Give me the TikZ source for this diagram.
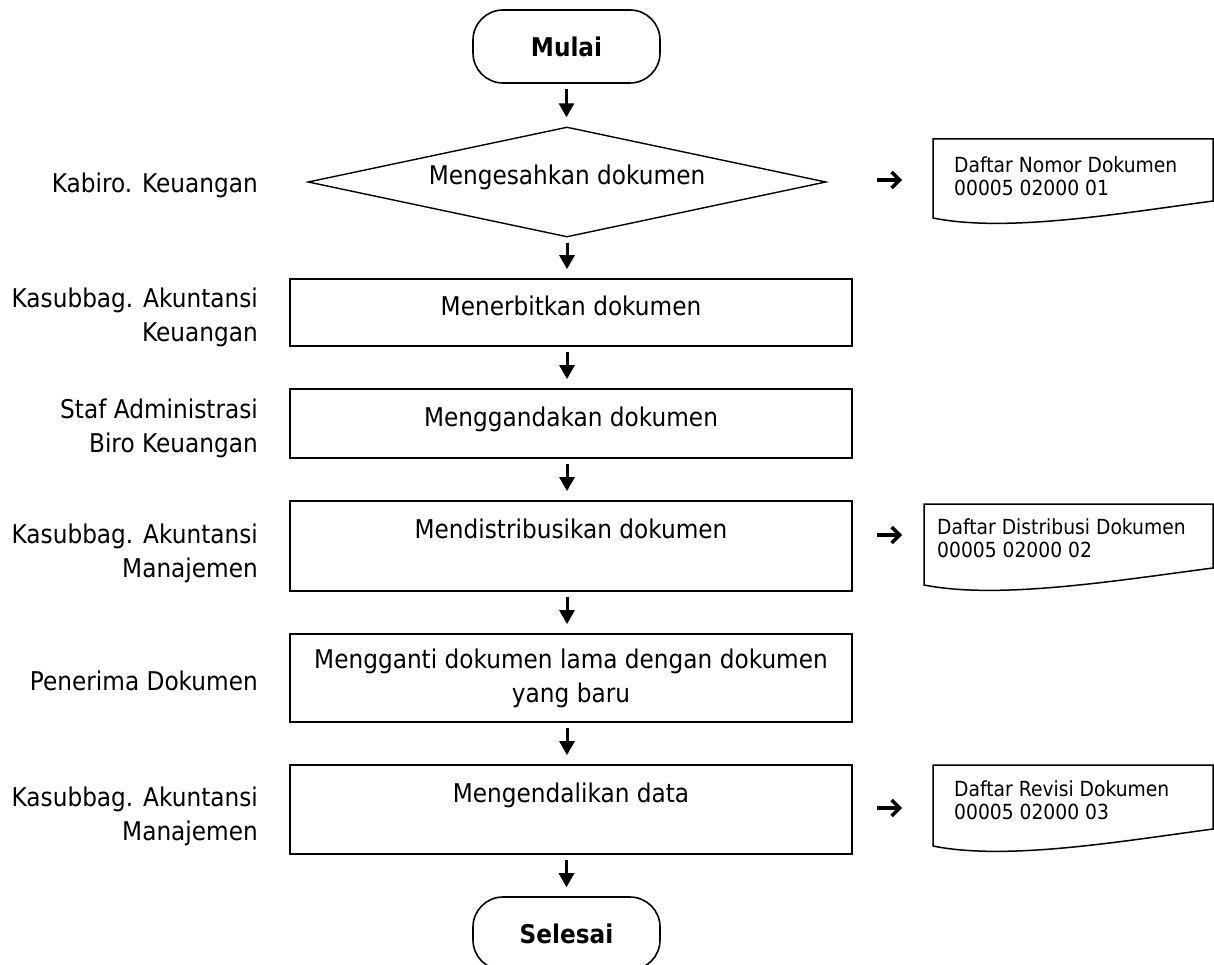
\documentclass[tikz,border=0pt]{standalone}
\usepackage{fontspec}
\setmainfont[FakeStretch=0.9]{DejaVu Sans}
\usetikzlibrary{shapes.geometric,arrows.meta}
\newcommand\mainfs{\fontsize{25.8}{34}\selectfont}
\newcommand\docfs{\fontsize{20.8}{23}\selectfont}
\begin{document}
\begin{tikzpicture}[x=1pt,y=-1pt,
  box/.style={draw, line width=1.8pt, minimum width=562pt, inner sep=0pt, align=center, font=\mainfs},
  oneline/.style={text height=19.6pt, text depth=14.6pt},
  term/.style={draw, line width=1.6pt, rounded corners=30pt, minimum width=187pt, minimum height=73pt, inner sep=0pt, font=\mainfs\bfseries},
  dec/.style={diamond, aspect=4.71, draw, line width=1.4pt, minimum width=518pt, minimum height=110pt, inner sep=0pt, font=\mainfs},
  lab/.style={anchor=north east, align=right, inner sep=0pt, font=\mainfs},
  doctext/.style={anchor=north west, align=left, inner sep=0pt, font=\docfs},
  docline/.style={line width=1.5pt},
  flow/.style={line width=3pt, -{Triangle[length=14pt,width=15pt]}, shorten <=5pt, shorten >=9pt},
  docarrow/.style={line width=3.4pt, -{Straight Barb[length=8pt,width=16pt,line width=3.4pt]}}
]
\useasboundingbox (0,0) rectangle (1214,965);

% terminals, decision and process boxes
\node[term] (mulai) at (566.5,46.5) {Mulai};
\node[dec, oneline] (d1) at (567,182) {Mengesahkan dokumen};
\node[box, oneline, minimum height=67pt] (b1) at (571,312.5) {Menerbitkan dokumen};
\node[box, oneline, minimum height=69pt] (b2) at (571,423.5) {Menggandakan dokumen};
\node[box, minimum height=90pt] (b3) at (571,546) {Mendistribusikan dokumen\\~};
\node[box, minimum height=88pt] (b4) at (571,678) {Mengganti dokumen lama dengan dokumen\\yang baru};
\node[box, minimum height=89pt] (b5) at (571,809.5) {Mengendalikan data\\~};
\node[term] (selesai) at (566.5,933.5) {Selesai};

% flow arrows
\draw[flow] (mulai.south) -- (mulai.south |- d1.north);
\draw[flow] (d1.south) -- (d1.south |- b1.north);
\draw[flow] (b1.south -| d1.south) -- (b2.north -| d1.south);
\draw[flow] (b2.south -| d1.south) -- (b3.north -| d1.south);
\draw[flow] (b3.south -| d1.south) -- (b4.north -| d1.south);
\draw[flow] (b4.south -| d1.south) -- (b5.north -| d1.south);
\draw[flow] (b5.south -| selesai.north) -- (selesai.north);

% role labels
\node[lab] (l0) at (258,172.4) {Kabiro. Keuangan};
\node[lab] (l1) at (258,287.4) {Kasubbag. Akuntansi\\Keuangan};
\node[lab] (l2) at (258,398.4) {Staf Administrasi\\Biro Keuangan};
\node[lab] (l3) at (258,523.4) {Kasubbag. Akuntansi\\Manajemen};
\node[lab] (l4) at (258,670.4) {Penerima Dokumen};
\node[lab] (l5) at (258,786.9) {Kasubbag. Akuntansi\\Manajemen};

% documents
\draw[docline] (933,139) -- (1213,139) -- (1213,201) .. controls (1123,213) and (1007,233) .. (933,218) -- cycle;
\node[doctext] (doc1) at (954,156.5) {Daftar Nomor Dokumen\\00005 02000 01};
\draw[docline] (924,504) -- (1213,504) -- (1213,568) .. controls (1120,580) and (1000,600) .. (924,585) -- cycle;
\node[doctext] (doc2) at (937,518.5) {Daftar Distribusi Dokumen\\00005 02000 02};
\draw[docline] (933,765) -- (1213,765) -- (1213,829) .. controls (1123,841) and (1007,861) .. (933,846) -- cycle;
\node[doctext] (doc3) at (954,780.5) {Daftar Revisi Dokumen\\00005 02000 03};

% arrows to documents
\coordinate (a1) at (877,180);
\coordinate (a2) at (877,535);
\coordinate (a3) at (877,808);
\draw[docarrow, shorten >=52pt] (a1) -- (a1 -| doc1.west);
\draw[docarrow, shorten >=35pt] (a2) -- (a2 -| doc2.west);
\draw[docarrow, shorten >=52pt] (a3) -- (a3 -| doc3.west);
\end{tikzpicture}
\end{document}
